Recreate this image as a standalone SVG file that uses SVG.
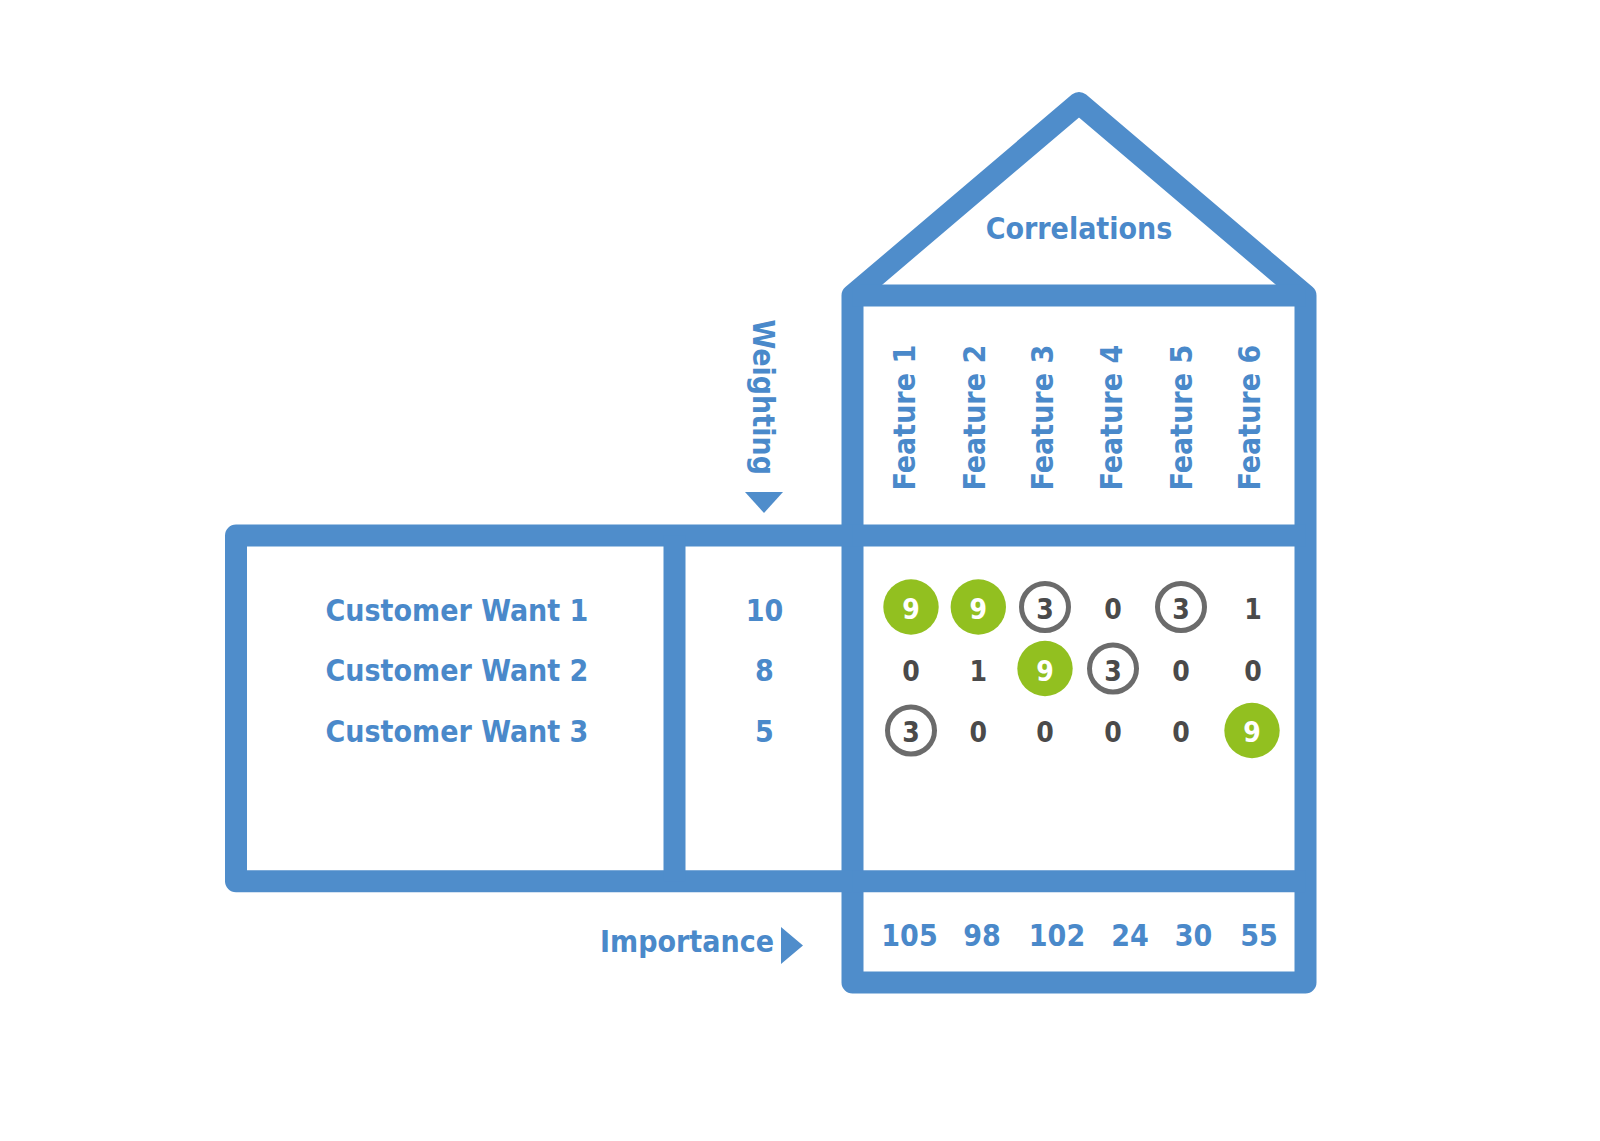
<svg xmlns="http://www.w3.org/2000/svg" width="1600" height="1141" viewBox="0 0 1600 1141">
<style>
  .frame { fill: none; stroke: #4F8DCB; stroke-width: 22; stroke-linejoin: round; stroke-linecap: butt; }
  .t { font-family: "DejaVu Sans Condensed", "DejaVu Sans", sans-serif; font-stretch: condensed; font-weight: bold; fill: #4A89CA; font-size: 30px; }
  .mid { text-anchor: middle; }
  .d { font-family: "DejaVu Sans Condensed", "DejaVu Sans", sans-serif; font-stretch: condensed; font-weight: bold; font-size: 28px; text-anchor: middle; fill: #4A4A4A; }
  .w { fill: #FFFFFF; }
  .g { fill: #92C020; }
  .r { fill: #FFFFFF; stroke: #6B6B6B; stroke-width: 5; }
  .arrow { fill: #4F8DCB; }
</style>
<rect width="1600" height="1141" fill="#FFFFFF"/>

<g id="frame">
  <path class="frame" d="M852.5,982.5 V295.5 L1079,103 L1305.5,295.5 V982.5 Z"/>
  <line class="frame" x1="852.5" y1="295.5" x2="1305.5" y2="295.5"/>
  <path class="frame" d="M852.5,535.5 H236 V881.3 H852.5"/>
  <line class="frame" x1="852.5" y1="535.5" x2="1305.5" y2="535.5"/>
  <line class="frame" x1="852.5" y1="881.3" x2="1305.5" y2="881.3"/>
  <line class="frame" x1="674.5" y1="535.5" x2="674.5" y2="881.3"/>
</g>

<g id="correlations">
  <text class="t mid" x="1079" y="239">Correlations</text>
</g>

<g id="features">
  <text class="t" transform="translate(915,490.5) rotate(-90)">Feature 1</text>
  <text class="t" transform="translate(985,490.5) rotate(-90)">Feature 2</text>
  <text class="t" transform="translate(1053,490.5) rotate(-90)">Feature 3</text>
  <text class="t" transform="translate(1122,490.5) rotate(-90)">Feature 4</text>
  <text class="t" transform="translate(1192,490.5) rotate(-90)">Feature 5</text>
  <text class="t" transform="translate(1260,490.5) rotate(-90)">Feature 6</text>
</g>

<g id="weighting-label">
  <text class="t" transform="translate(753,319.5) rotate(90)">Weighting</text>
  <polygon class="arrow" points="745,492 783,492 764,513"/>
</g>

<g id="customer-wants">
  <text class="t" x="325.5" y="621">Customer Want 1</text>
  <text class="t" x="325.5" y="681">Customer Want 2</text>
  <text class="t" x="325.5" y="742">Customer Want 3</text>
</g>

<g id="weights">
  <text class="t mid" x="764.5" y="621">10</text>
  <text class="t mid" x="764.5" y="681">8</text>
  <text class="t mid" x="764.5" y="742">5</text>
</g>

<g id="matrix">
  <circle class="g" cx="911" cy="607" r="27.7"/>
  <text class="d w" x="911" y="619">9</text>
  <circle class="g" cx="978.3" cy="607" r="27.7"/>
  <text class="d w" x="978.3" y="619">9</text>
  <circle class="r" cx="1045" cy="607" r="23.5"/>
  <text class="d" x="1045" y="619">3</text>
  <text class="d" x="1113" y="619">0</text>
  <circle class="r" cx="1181" cy="607" r="23.5"/>
  <text class="d" x="1181" y="619">3</text>
  <text class="d" x="1253" y="619">1</text>

  <text class="d" x="911" y="680.5">0</text>
  <text class="d" x="978.3" y="680.5">1</text>
  <circle class="g" cx="1045" cy="668.5" r="27.7"/>
  <text class="d w" x="1045" y="680.5">9</text>
  <circle class="r" cx="1113" cy="668.5" r="23.5"/>
  <text class="d" x="1113" y="680.5">3</text>
  <text class="d" x="1181" y="680.5">0</text>
  <text class="d" x="1253" y="680.5">0</text>

  <circle class="r" cx="911" cy="730.5" r="23.5"/>
  <text class="d" x="911" y="742">3</text>
  <text class="d" x="978.3" y="742">0</text>
  <text class="d" x="1045" y="742">0</text>
  <text class="d" x="1113" y="742">0</text>
  <text class="d" x="1181" y="742">0</text>
  <circle class="g" cx="1252" cy="730.5" r="27.7"/>
  <text class="d w" x="1252" y="742">9</text>
</g>

<g id="importance-label">
  <text class="t" x="774" y="952" text-anchor="end">Importance</text>
  <polygon class="arrow" points="781,927 803,945.5 781,964"/>
</g>

<g id="importance-values">
  <text class="t mid" x="909.5" y="946">105</text>
  <text class="t mid" x="982" y="946">98</text>
  <text class="t mid" x="1057" y="946">102</text>
  <text class="t mid" x="1130" y="946">24</text>
  <text class="t mid" x="1193.5" y="946">30</text>
  <text class="t mid" x="1259" y="946">55</text>
</g>
</svg>
